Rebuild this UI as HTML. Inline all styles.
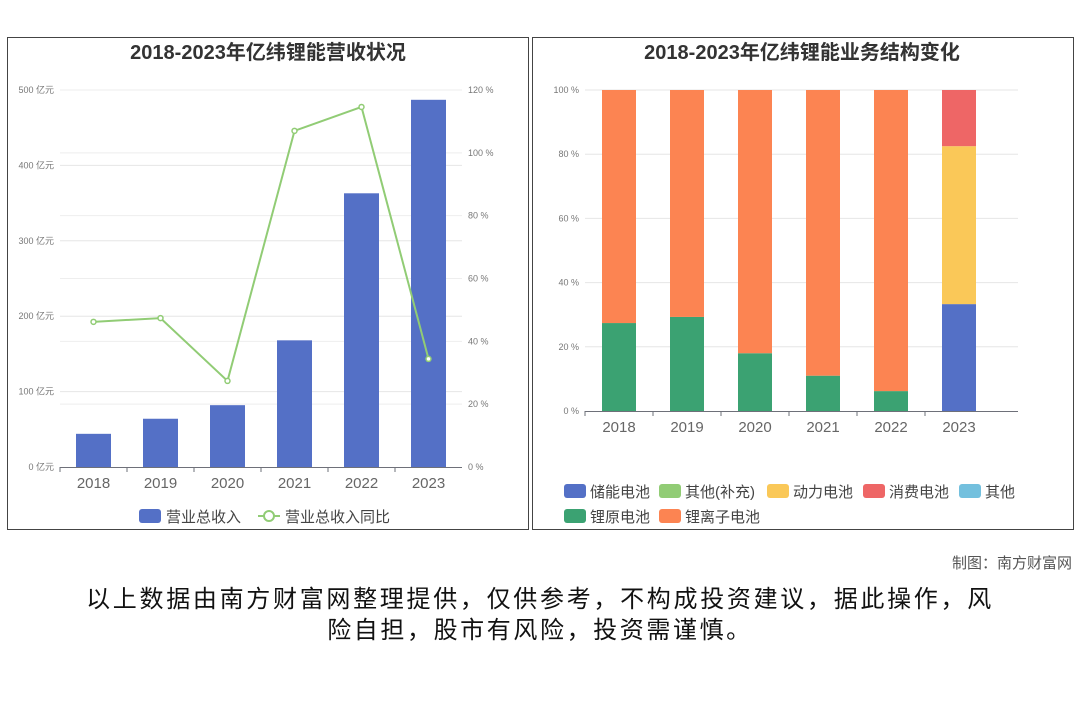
<!DOCTYPE html>
<html><head><meta charset="utf-8"><style>
body{margin:0;background:#fff;width:1080px;height:720px;overflow:hidden;font-family:"Liberation Sans","Noto Sans CJK SC",sans-serif}
svg text{font-family:"Liberation Sans","Noto Sans CJK SC",sans-serif}
</style></head><body>
<svg id="s" width="1080" height="720">
<rect x="7.5" y="37.5" width="521" height="492" fill="none" stroke="#444"/>
<rect x="532.5" y="37.5" width="541" height="492" fill="none" stroke="#444"/>
<text x="268" y="59" text-anchor="middle" font-size="20" font-weight="bold" fill="#333">2018-2023年亿纬锂能营收状况</text>
<text x="802" y="59" text-anchor="middle" font-size="20" font-weight="bold" fill="#333">2018-2023年亿纬锂能业务结构变化</text>
<g id="L"></g><g id="R"></g>
<g>
<rect x="139" y="509" width="22" height="14" rx="3" fill="#5470c6"/>
<text x="166" y="522" font-size="15" fill="#444">营业总收入</text>
<line x1="258" y1="516" x2="280" y2="516" stroke="#91cc75" stroke-width="2"/>
<circle cx="269" cy="516" r="5" fill="#fff" stroke="#91cc75" stroke-width="2"/>
<text x="285" y="522" font-size="15" fill="#444">营业总收入同比</text>
</g>
<g id="RL"></g>
<text x="1072" y="568" text-anchor="end" font-size="15" fill="#555">制图：南方财富网</text>
<text x="540" y="607" text-anchor="middle" font-size="24" letter-spacing="2.7" fill="#111">以上数据由南方财富网整理提供，仅供参考，不构成投资建议，据此操作，风</text>
<text x="540" y="638" text-anchor="middle" font-size="24" letter-spacing="2.6" fill="#111">险自担，股市有风险，投资需谨慎。</text>
</svg>
<script>
const years=["2018","2019","2020","2021","2022","2023"];
const revenue=[44,64,82,168,363,487];
const yoy=[46.2,47.4,27.4,107,114.6,34.4];
const leftTicks=["0 亿元","100 亿元","200 亿元","300 亿元","400 亿元","500 亿元"];
const rightTicks=["0 %","20 %","40 %","60 %","80 %","100 %","120 %"];
const seriesNames=["储能电池","其他(补充)","动力电池","消费电池","其他","锂原电池","锂离子电池"];
const seriesColors=["#5470c6","#91cc75","#fac858","#ee6666","#73c0de","#3ba272","#fc8452"];
const storage=[0,0,0,0,0,33.3];
const otherSup=[0,0,0,0,0,0];
const power=[0,0,0,0,0,49.2];
const consumer=[0,0,0,0,0,17.5];
const other=[0,0,0,0,0,0];
const primary=[27.4,29.3,18,11,6.2,0];
const liIon=[72.6,70.7,82,89,93.8,0];
const pctTicks=["0 %","20 %","40 %","60 %","80 %","100 %"];
const NS="http://www.w3.org/2000/svg";
function mk(p,t,a){const e=document.createElementNS(NS,t);for(const k in a)e.setAttribute(k,a[k]);p.appendChild(e);return e;}
const L=document.getElementById('L');
const lx0=60,lx1=462,ly0=467,ly1=90;
const bw=(lx1-lx0)/years.length;
const yL=v=>ly0-(v/500)*(ly0-ly1);
const yR=v=>ly0-(v/120)*(ly0-ly1);
leftTicks.forEach((t,i)=>{const y=yL(i*100);
 if(i>0){const g=mk(L,'line',{x1:lx0,x2:lx1,y1:y,y2:y,stroke:'#e6e6e6'});}
 const tx=mk(L,'text',{x:54,y:y+3,'text-anchor':'end','font-size':9,fill:'#777'});tx.textContent=t;
 });
rightTicks.forEach((t,i)=>{const y=yR(i*20);
 if(i>0){const g=mk(L,'line',{x1:lx0,x2:lx1,y1:y,y2:y,stroke:'#eeeeee'});}
 const tx=mk(L,'text',{x:468,y:y+3,'font-size':9,fill:'#777'});tx.textContent=t;
 });
revenue.forEach((v,i)=>{const r=mk(L,'rect',{x:lx0+i*bw+(bw-35)/2,y:yL(v),width:35,height:ly0-yL(v),fill:'#5470c6'});
 });
let ax=mk(L,'line',{x1:lx0,x2:lx1,y1:ly0+.5,y2:ly0+.5,stroke:'#6e7079'});

years.forEach((y,i)=>{const x=lx0+i*bw;const t=mk(L,'line',{x1:x,x2:x,y1:ly0,y2:ly0+5,stroke:'#6e7079'});
 
 const tx=mk(L,'text',{x:lx0+(i+.5)*bw,y:ly0+21,'text-anchor':'middle','font-size':15,fill:'#666'});tx.textContent=y;
 });
const pl=mk(L,'polyline',{points:yoy.map((v,i)=>(lx0+(i+.5)*bw)+','+yR(v)).join(' '),fill:'none',stroke:'#91cc75','stroke-width':2});

yoy.forEach((v,i)=>{const c=mk(L,'circle',{cx:lx0+(i+.5)*bw,cy:yR(v),r:2.5,fill:'#fff',stroke:'#91cc75','stroke-width':1.5});
 });
const R=document.getElementById('R');
const rx0=585,rx1=993,ry0=411,ry1=90;
const rbw=(rx1-rx0)/years.length;
const yP=v=>ry0-(v/100)*(ry0-ry1);
pctTicks.forEach((t,i)=>{const y=yP(i*20);
 if(i>0){const g=mk(R,'line',{x1:rx0,x2:rx1+25,y1:y,y2:y,stroke:'#e6e6e6'});}
 const tx=mk(R,'text',{x:579,y:y+3,'text-anchor':'end','font-size':9,fill:'#777'});tx.textContent=t;
 });
const order=[storage,otherSup,power,consumer,other,primary,liIon];
const stackOrder=[5,6,0,1,2,3,4];
years.forEach((yr,i)=>{let acc=0;
 stackOrder.forEach(s=>{const v=order[s][i];if(v<=0)return;
  const r=mk(R,'rect',{x:rx0+i*rbw+(rbw-34)/2,y:yP(acc+v),width:34,height:yP(acc)-yP(acc+v),fill:seriesColors[s]});
  acc+=v;});});
ax=mk(R,'line',{x1:rx0,x2:rx1+25,y1:ry0+.5,y2:ry0+.5,stroke:'#6e7079'});

years.forEach((y,i)=>{const x=rx0+i*rbw;const t=mk(R,'line',{x1:x,x2:x,y1:ry0,y2:ry0+5,stroke:'#6e7079'});
 
 const tx=mk(R,'text',{x:rx0+(i+.5)*rbw,y:ry0+21,'text-anchor':'middle','font-size':15,fill:'#666'});tx.textContent=y;
 });
const RL=document.getElementById('RL');
const lpos=[[564,491],[659,491],[767,491],[863,491],[959,491],[564,516],[659,516]];
seriesNames.forEach((n,i)=>{const [x,y]=lpos[i];
 const r=mk(RL,'rect',{x:x,y:y-7,width:22,height:14,rx:3,fill:seriesColors[i]});
 
 const t=mk(RL,'text',{x:x+26,y:y+6,'font-size':15,fill:'#444'});t.textContent=n;
 });
</script>
</body></html>
